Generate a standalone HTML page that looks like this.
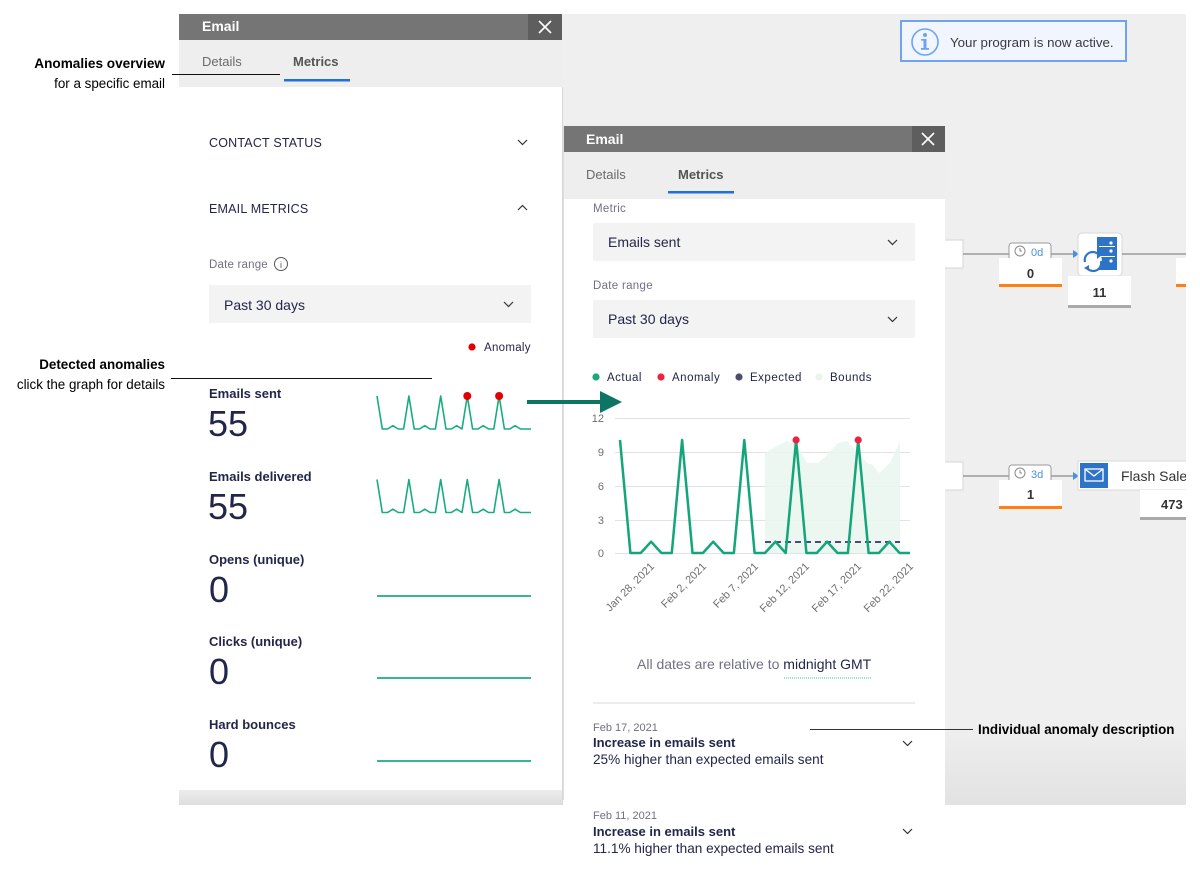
<!DOCTYPE html>
<html><head><meta charset="utf-8"><style>
html,body{margin:0;padding:0;background:#fff;width:1200px;height:876px;overflow:hidden}
svg{display:block}
text{font-family:"Liberation Sans",Arial,sans-serif}
</style></head><body>
<svg width="1200" height="876" viewBox="0 0 1200 876" xmlns="http://www.w3.org/2000/svg">
<defs>
<linearGradient id="cb" x1="0" y1="0" x2="0" y2="1">
<stop offset="0" stop-color="#efefef"/><stop offset="0.9" stop-color="#efefef"/><stop offset="1" stop-color="#e2e2e2"/>
</linearGradient>
<linearGradient id="lb" x1="0" y1="0" x2="0" y2="1">
<stop offset="0" stop-color="#ececec"/><stop offset="1" stop-color="#dedede"/>
</linearGradient>
<clipPath id="cv"><rect x="945" y="14" width="241" height="791"/></clipPath>
</defs>

<!-- canvas -->
<rect x="179" y="14" width="1007" height="791" fill="url(#cb)"/>

<!-- notification -->
<rect x="901" y="21" width="225" height="40" fill="#f1f6fe" stroke="#6ea2f2" stroke-width="2"/>
<circle cx="925" cy="42" r="13" fill="none" stroke="#6ea2f2" stroke-width="1.6"/>
<circle cx="925" cy="35" r="2" fill="#6ea2f2"/>
<rect x="923.5" y="39" width="3" height="10" fill="#6ea2f2"/>
<rect x="921" y="39" width="4" height="1.6" fill="#6ea2f2"/>
<rect x="921" y="48" width="8" height="1.8" fill="#6ea2f2"/>
<text x="950" y="47" font-size="13.3" fill="#3a3a3a">Your program is now active.</text>

<!-- right canvas nodes -->
<g clip-path="url(#cv)">
<rect x="930" y="240" width="33" height="28" fill="#fff" stroke="#d6d6d6"/>
<line x1="963" y1="254" x2="1074" y2="254" stroke="#8a8a8a" stroke-width="1.2"/>
<rect x="1009" y="243" width="42" height="20" rx="3" fill="#fff" stroke="#9a9a9a"/>
<circle cx="1020" cy="251" r="5" fill="none" stroke="#8a8a8a" stroke-width="1"/>
<path d="M1020 248 V251 H1022" stroke="#8a8a8a" fill="none" stroke-width="1"/>
<text x="1031" y="256" font-size="11" fill="#4a8fe0">0d</text>
<rect x="999" y="258" width="63" height="29" fill="#fff"/>
<rect x="999" y="284" width="63" height="3" fill="#ff7f11"/>
<text x="1030.5" y="278" font-size="13" font-weight="bold" fill="#333" text-anchor="middle">0</text>
<path d="M1073 250 L1079 254 L1073 258 Z" fill="#4a90e2"/>
<rect x="1078" y="233" width="44" height="43" rx="4" fill="#fff" stroke="#d8d8d8"/>
<rect x="1097" y="237" width="20" height="33" fill="#2d74c9"/>
<rect x="1099" y="246" width="16" height="1" fill="#fff"/>
<rect x="1099" y="256" width="16" height="1" fill="#fff"/>
<circle cx="1111" cy="243" r="1.6" fill="#fff"/><circle cx="1111" cy="251" r="1.6" fill="#fff"/><circle cx="1111" cy="261" r="1.6" fill="#fff"/>
<circle cx="1093" cy="261" r="9" fill="#fff"/>
<path d="M1085 262 A8 8 0 0 1 1099 255" stroke="#2d74c9" stroke-width="2.2" fill="none"/>
<path d="M1101 261 A8 8 0 0 1 1087 268" stroke="#2d74c9" stroke-width="2.2" fill="none"/>
<path d="M1097 252 L1102 255 L1097 259 Z" fill="#2d74c9"/>
<path d="M1089 265 L1084 268 L1089 271 Z" fill="#2d74c9"/>
<rect x="1068" y="276" width="63" height="32" fill="#fff"/>
<rect x="1068" y="305" width="63" height="3" fill="#a9a9a9"/>
<text x="1099.5" y="297" font-size="13" font-weight="bold" fill="#333" text-anchor="middle">11</text>
<line x1="1122" y1="254" x2="1186" y2="254" stroke="#8a8a8a" stroke-width="1.2"/>
<rect x="1176" y="258" width="20" height="29" fill="#fff"/>
<rect x="1176" y="284" width="20" height="3" fill="#ff7f11"/>

<rect x="930" y="462" width="33" height="28" fill="#fff" stroke="#d6d6d6"/>
<line x1="963" y1="476" x2="1074" y2="476" stroke="#8a8a8a" stroke-width="1.2"/>
<rect x="1009" y="465" width="42" height="20" rx="3" fill="#fff" stroke="#9a9a9a"/>
<circle cx="1020" cy="473" r="5" fill="none" stroke="#8a8a8a" stroke-width="1"/>
<path d="M1020 470 V473 H1022" stroke="#8a8a8a" fill="none" stroke-width="1"/>
<text x="1031" y="478" font-size="11" fill="#4a8fe0">3d</text>
<rect x="999" y="480" width="63" height="29" fill="#fff"/>
<rect x="999" y="506" width="63" height="3" fill="#ff7f11"/>
<text x="1030.5" y="499" font-size="13" font-weight="bold" fill="#333" text-anchor="middle">1</text>
<path d="M1073 472 L1079 476 L1073 480 Z" fill="#4a90e2"/>
<rect x="1078" y="461" width="130" height="29" fill="#fff" stroke="#d8d8d8"/>
<rect x="1080" y="463" width="28" height="25" fill="#2d74c9"/>
<rect x="1085" y="469" width="18" height="12" fill="none" stroke="#fff" stroke-width="1.3"/>
<path d="M1085 469 L1094 476 L1103 469" fill="none" stroke="#fff" stroke-width="1.3"/>
<text x="1121" y="481" font-size="14" fill="#333">Flash Sale</text>
<rect x="1140" y="490" width="60" height="30" fill="#fff"/>
<rect x="1140" y="517" width="60" height="3" fill="#a9a9a9"/>
<text x="1161" y="509" font-size="13" font-weight="bold" fill="#333">473</text>
</g>

<!-- LEFT PANEL -->
<rect x="179" y="14" width="383" height="26" fill="#757575"/>
<text x="202" y="31" font-size="14" font-weight="bold" fill="#fff">Email</text>
<rect x="528" y="14" width="34" height="26" fill="#5e5e5e"/>
<path d="M539 21 L551 33 M551 21 L539 33" stroke="#fff" stroke-width="1.6"/>
<rect x="179" y="40" width="383" height="47" fill="#eeeeee"/>
<text x="202" y="66" font-size="13" fill="#6a6a6a">Details</text>
<text x="293" y="66" font-size="13" font-weight="bold" fill="#555">Metrics</text>
<rect x="284" y="79" width="66" height="2.5" fill="#1f70de"/>
<rect x="179" y="87" width="383" height="703" fill="#fff"/>
<rect x="179" y="790" width="384" height="15" fill="url(#lb)"/>
<line x1="562.5" y1="87" x2="562.5" y2="805" stroke="#d8d8d8"/>

<text x="209" y="147" font-size="12.5" fill="#22264a" letter-spacing="0.2">CONTACT STATUS</text>
<path d="M518 140 L522.5 144.5 L527 140" fill="none" stroke="#333" stroke-width="1.2"/>
<text x="209" y="213" font-size="12.5" fill="#22264a" letter-spacing="0.2">EMAIL METRICS</text>
<path d="M518 210 L522.5 205.5 L527 210" fill="none" stroke="#333" stroke-width="1.2"/>
<text x="209" y="268" font-size="11.5" fill="#707084" letter-spacing="0.2">Date range</text>
<circle cx="281" cy="264" r="6.5" fill="none" stroke="#555" stroke-width="1"/>
<text x="281" y="268" font-size="9" fill="#555" text-anchor="middle">i</text>
<rect x="209" y="285" width="322" height="38" fill="#f3f3f3"/>
<text x="224" y="310" font-size="14" fill="#22264a">Past 30 days</text>
<path d="M504 302 L508.5 306.5 L513 302" fill="none" stroke="#333" stroke-width="1.2"/>
<circle cx="472" cy="347" r="3.6" fill="#e30000"/>
<text x="484" y="351" font-size="11.5" fill="#22264a" letter-spacing="0.3">Anomaly</text>

<!-- metric rows -->
<text x="209" y="398" font-size="13" font-weight="bold" fill="#22264a">Emails sent</text>
<text x="208" y="436" font-size="36" fill="#22264a">55</text>
<polyline fill="none" stroke="#19ac82" stroke-width="1.6" stroke-linejoin="round" points="377,396 382.3,429 387.6,429 392.9,425.7 398.2,429 403.6,429 408.9,396 414.2,429 419.5,429 424.8,425.7 430.1,429 435.4,429 440.7,396 446,429 451.3,429 456.7,425.7 462,429 467.3,396 472.6,429 477.9,429 483.2,425.7 488.5,429 493.8,429 499.1,396 504.4,429 509.8,429 515.1,425.7 520.4,429 525.7,429 531,429"/>
<circle cx="467.3" cy="396" r="4" fill="#e30000"/>
<circle cx="499.1" cy="396" r="4" fill="#e30000"/>

<text x="209" y="481" font-size="13" font-weight="bold" fill="#22264a">Emails delivered</text>
<text x="208" y="519" font-size="36" fill="#22264a">55</text>
<polyline transform="translate(0,83.5)" fill="none" stroke="#19ac82" stroke-width="1.6" stroke-linejoin="round" points="377,396 382.3,429 387.6,429 392.9,425.7 398.2,429 403.6,429 408.9,396 414.2,429 419.5,429 424.8,425.7 430.1,429 435.4,429 440.7,396 446,429 451.3,429 456.7,425.7 462,429 467.3,396 472.6,429 477.9,429 483.2,425.7 488.5,429 493.8,429 499.1,396 504.4,429 509.8,429 515.1,425.7 520.4,429 525.7,429 531,429"/>

<text x="209" y="564" font-size="13" font-weight="bold" fill="#22264a">Opens (unique)</text>
<text x="209" y="602" font-size="36" fill="#22264a">0</text>
<line x1="377" y1="596" x2="531" y2="596" stroke="#19ac82" stroke-width="1.8"/>
<text x="209" y="646" font-size="13" font-weight="bold" fill="#22264a">Clicks (unique)</text>
<text x="209" y="684" font-size="36" fill="#22264a">0</text>
<line x1="377" y1="678" x2="531" y2="678" stroke="#19ac82" stroke-width="1.8"/>
<text x="209" y="729" font-size="13" font-weight="bold" fill="#22264a">Hard bounces</text>
<text x="209" y="767" font-size="36" fill="#22264a">0</text>
<line x1="377" y1="761" x2="531" y2="761" stroke="#19ac82" stroke-width="1.8"/>

<!-- annotations -->
<text x="165" y="68" font-size="13.6" font-weight="bold" fill="#000" text-anchor="end">Anomalies overview</text>
<text x="165" y="88" font-size="13.4" fill="#000" text-anchor="end">for a specific email</text>
<line x1="172" y1="74.5" x2="280" y2="74.5" stroke="#111" stroke-width="1"/>
<text x="165" y="369" font-size="13.4" font-weight="bold" fill="#000" text-anchor="end">Detected anomalies</text>
<text x="165" y="389" font-size="13.4" fill="#000" text-anchor="end">click the graph for details</text>
<line x1="171" y1="378.5" x2="432" y2="378.5" stroke="#111" stroke-width="1"/>

<!-- SECOND PANEL -->
<rect x="563" y="126" width="382" height="26" fill="#757575"/>
<text x="586" y="144" font-size="14" font-weight="bold" fill="#fff">Email</text>
<rect x="912" y="126" width="33" height="26" fill="#5e5e5e"/>
<path d="M922 133 L934 145 M934 133 L922 145" stroke="#fff" stroke-width="1.6"/>
<rect x="563" y="152" width="382" height="47" fill="#eeeeee"/>
<text x="586" y="179" font-size="13" fill="#6a6a6a">Details</text>
<text x="678" y="179" font-size="13" font-weight="bold" fill="#555">Metrics</text>
<rect x="668" y="191" width="66" height="2.5" fill="#1f70de"/>
<rect x="563" y="199" width="382" height="677" fill="#fff"/>
<line x1="563.5" y1="126" x2="563.5" y2="800" stroke="#dcdcdc"/>

<text x="593" y="212" font-size="11.5" fill="#707084" letter-spacing="0.3">Metric</text>
<rect x="593" y="223" width="322" height="38" fill="#f3f3f3"/>
<text x="608" y="247" font-size="14" fill="#22264a">Emails sent</text>
<path d="M888 240 L892.5 244.5 L897 240" fill="none" stroke="#333" stroke-width="1.2"/>
<text x="593" y="289" font-size="11.5" fill="#707084" letter-spacing="0.3">Date range</text>
<rect x="593" y="300" width="322" height="38" fill="#f3f3f3"/>
<text x="608" y="324" font-size="14" fill="#22264a">Past 30 days</text>
<path d="M888 317 L892.5 321.5 L897 317" fill="none" stroke="#333" stroke-width="1.2"/>

<!-- legend -->
<circle cx="596" cy="377" r="3.6" fill="#19a77e"/>
<text x="607" y="381" font-size="11.5" fill="#22264a" letter-spacing="0.5">Actual</text>
<circle cx="661" cy="377" r="3.6" fill="#f0213f"/>
<text x="672" y="381" font-size="11.5" fill="#22264a" letter-spacing="0.5">Anomaly</text>
<circle cx="739" cy="377" r="3.6" fill="#4c4d6e"/>
<text x="750" y="381" font-size="11.5" fill="#22264a" letter-spacing="0.5">Expected</text>
<circle cx="819" cy="377" r="3.6" fill="#e8f5ef"/>
<text x="830" y="381" font-size="11.5" fill="#22264a" letter-spacing="0.5">Bounds</text>

<!-- chart grid -->
<g stroke="#e2e2e2" stroke-width="1">
<line x1="615" y1="418.5" x2="910" y2="418.5"/>
<line x1="615" y1="452.5" x2="910" y2="452.5"/>
<line x1="615" y1="486.5" x2="910" y2="486.5"/>
<line x1="615" y1="520.5" x2="910" y2="520.5"/>
<line x1="615" y1="553.5" x2="910" y2="553.5"/>
</g>
<g font-size="11" fill="#6f6f6f" text-anchor="end">
<text x="604" y="422">12</text>
<text x="604" y="456">9</text>
<text x="604" y="490">6</text>
<text x="604" y="524">3</text>
<text x="604" y="557">0</text>
</g>
<!-- bounds -->
<polygon fill="#eaf6f0" opacity="0.9" points="765,453 775,447 787,441 797,445 807,463 818,463 827,455 838,443 847,441 858,452 867,463 873,465 879,473 890,463 900,441 900,553 765,553"/>
<!-- expected -->
<line x1="765" y1="542" x2="900" y2="542" stroke="#4c4d6e" stroke-width="2" stroke-dasharray="6,4"/>
<!-- actual -->
<polyline fill="none" stroke="#14a57b" stroke-width="2.5" stroke-linejoin="round" points="620,440 630.4,553 640.7,553 651.1,541.7 661.4,553 671.8,553 682.1,440 692.5,553 702.9,553 713.2,541.7 723.6,553 733.9,553 744.3,440 754.6,553 765,553 775.4,541.7 785.7,553 796.1,440 806.4,553 816.8,553 827.1,541.7 837.5,553 847.9,553 858.2,440 868.6,553 878.9,553 889.3,541.7 899.6,553 910,553"/>
<circle cx="796.1" cy="440" r="3.6" fill="#f0213f"/>
<circle cx="858.2" cy="440" r="3.6" fill="#f0213f"/>
<!-- x labels -->
<g font-size="11" fill="#6f6f6f" text-anchor="end">
<text x="655" y="567" transform="rotate(-45 655 567)">Jan 28, 2021</text>
<text x="707" y="567" transform="rotate(-45 707 567)">Feb 2, 2021</text>
<text x="759" y="567" transform="rotate(-45 759 567)">Feb 7, 2021</text>
<text x="810" y="567" transform="rotate(-45 810 567)">Feb 12, 2021</text>
<text x="862" y="567" transform="rotate(-45 862 567)">Feb 17, 2021</text>
<text x="914" y="567" transform="rotate(-45 914 567)">Feb 22, 2021</text>
</g>

<!-- arrow -->
<rect x="527" y="400" width="76" height="4" fill="#0c7564"/>
<path d="M600 391 L622 402 L600 413 Z" fill="#0c7564"/>

<!-- footer -->
<text x="637" y="669" font-size="14" fill="#707084">All dates are relative to <tspan fill="#22264a">midnight GMT</tspan></text>
<line x1="784" y1="678" x2="872" y2="678" stroke="#3cc29a" stroke-width="1" stroke-dasharray="1,1"/>
<line x1="593" y1="703" x2="915" y2="703" stroke="#e6e6e6" stroke-width="1.5"/>

<text x="593" y="731" font-size="11" fill="#707084">Feb 17, 2021</text>
<text x="593" y="747" font-size="13" font-weight="bold" fill="#22264a">Increase in emails sent</text>
<text x="593" y="764" font-size="13.6" fill="#22264a">25% higher than expected emails sent</text>
<path d="M903 741 L907.5 745.5 L912 741" fill="none" stroke="#333" stroke-width="1.2"/>
<text x="593" y="819" font-size="11" fill="#707084">Feb 11, 2021</text>
<text x="593" y="836" font-size="13" font-weight="bold" fill="#22264a">Increase in emails sent</text>
<text x="593" y="853" font-size="13.6" fill="#22264a">11.1% higher than expected emails sent</text>
<path d="M903 829 L907.5 833.5 L912 829" fill="none" stroke="#333" stroke-width="1.2"/>

<line x1="810" y1="729.5" x2="973" y2="729.5" stroke="#333" stroke-width="1"/>
<text x="978" y="734" font-size="13.4" font-weight="bold" fill="#000">Individual anomaly description</text>
</svg>
</body></html>
